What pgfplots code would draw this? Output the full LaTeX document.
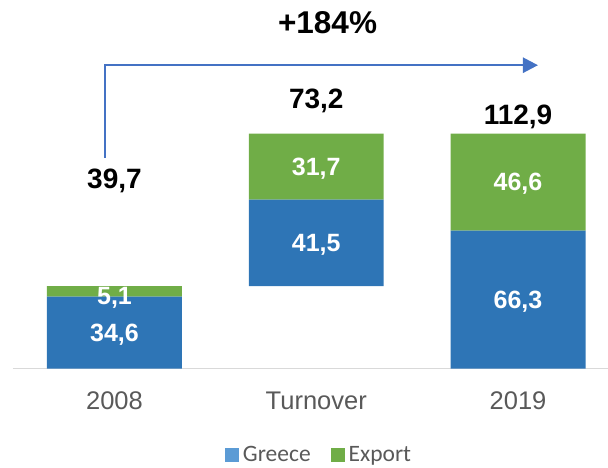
\documentclass[border=0pt]{standalone}
\usepackage{pgfplots}
\pgfplotsset{compat=1.18}
\usepackage{fontspec}
\setmainfont{Liberation Sans}
\newfontfamily\calibri{Carlito}
\usetikzlibrary{arrows.meta}
\definecolor{barblue}{HTML}{2E75B6}
\definecolor{bargreen}{HTML}{70AD47}
\definecolor{legblue}{HTML}{5B9BD5}
\definecolor{arrowblue}{HTML}{4472C4}
\definecolor{axisgrey}{HTML}{D9D9D9}
\definecolor{labelgrey}{HTML}{595959}
\tikzset{
  inbar/.style={text=white, font=\bfseries\fontsize{25}{30}\selectfont},
  total/.style={text=black, font=\bfseries\fontsize{28}{32}\selectfont},
}

\begin{document}
\begin{tikzpicture}
\path[use as bounding box] (0pt,0pt) rectangle (608pt,467pt);
\begin{axis}[
  at={(13pt,98.3pt)}, anchor=south west,
  scale only axis, width=595pt, height=368.7pt,
  xmin=-0.503, xmax=2.446, ymin=0, ymax=177,
  enlargelimits=false,
  ybar stacked, bar width=0.669,
  hide y axis,
  axis x line*=bottom,
  x axis line style={draw=axisgrey, line width=1.5pt},
  xtick={0,1,2}, xticklabels={2008,Turnover,2019},
  xtick style={draw=none},
  xticklabel style={anchor=center, yshift=-32pt, text=labelgrey,
                    font=\fontsize{25.5}{30}\selectfont},
  clip=false,
  legend columns=2,
  legend style={at={(0.516,-0.234)}, anchor=center, draw=none, fill=none,
    font=\calibri\fontsize{23.5}{27}\selectfont, text=labelgrey,
    nodes={inner xsep=3.5pt},
    /tikz/every even column/.append style={column sep=17pt}},
]
  % invisible base so the turnover bar floats
  \addplot[fill=none, draw=none, forget plot]
    coordinates {(0,0) (1,39.7) (2,0)};
  \addplot[fill=barblue, draw=none,
    legend image code/.code={\fill[legblue] (-2.5pt,-7pt) rectangle (11.5pt,7pt);}]
    coordinates {(0,34.6) (1,41.5) (2,66.3)};
  \addlegendentry{Greece}
  \addplot[fill=bargreen, draw=none,
    legend image code/.code={\fill[bargreen] (-2.5pt,-7pt) rectangle (11.5pt,7pt);}]
    coordinates {(0,5.1) (1,31.7) (2,46.6)};
  \addlegendentry{Export}

  % stacked bars are drawn last, so label spots are kept and used after the axis
  \coordinate (g08) at (axis cs:0,17.3);
  \coordinate (e08) at (axis cs:0,34.2);
  \coordinate (gto) at (axis cs:1,60.45);
  \coordinate (eto) at (axis cs:1,97.05);
  \coordinate (g19) at (axis cs:2,33.15);
  \coordinate (e19) at (axis cs:2,89.6);

  \node[total] at (axis cs:0,90.1) {39,7};
  \node[total] at (axis cs:1,128.5) {73,2};
  \node[total] at (axis cs:2,120.8) {112,9};

  \draw[arrowblue, line width=2.5pt, -{Triangle[length=15pt,width=15pt]}]
    (axis cs:-0.047,101.2) |- (axis cs:2.099,145.7);
  \node[font=\bfseries\fontsize{31.5}{36}\selectfont] at (axis cs:1.056,166.2) {+184\%};
\end{axis}

\node[inbar] at (e08) {5,1};
\node[inbar, yshift=-2pt] at (g08) {34,6};
\node[inbar, yshift=-2pt] at (gto) {41,5};
\node[inbar, yshift=-2pt] at (eto) {31,7};
\node[inbar, yshift=-2pt] at (g19) {66,3};
\node[inbar, yshift=-2pt] at (e19) {46,6};
\end{tikzpicture}
\end{document}
